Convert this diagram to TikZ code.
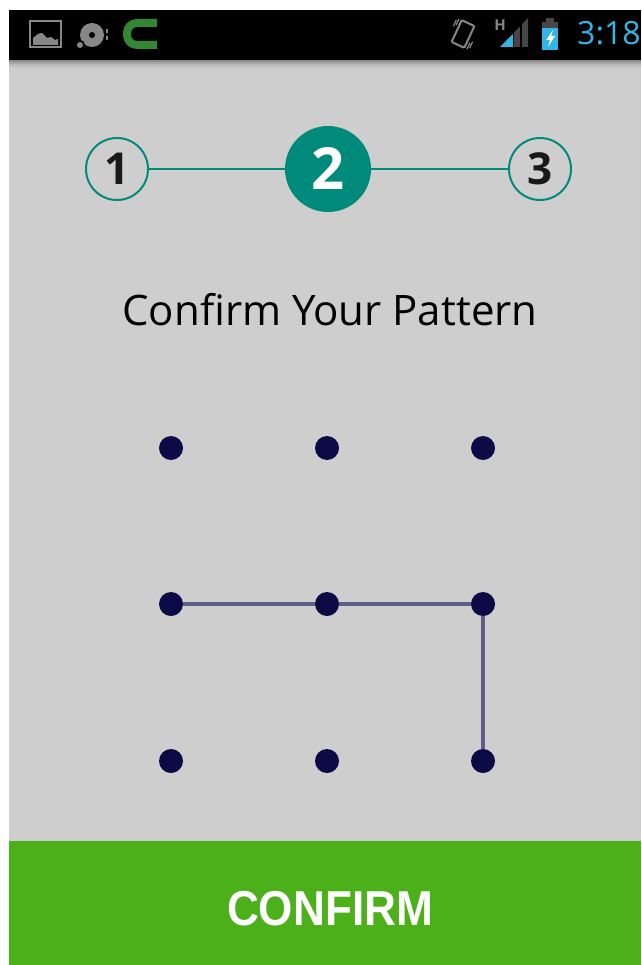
\documentclass[tikz,border=0pt]{standalone}
\usepackage{fontspec}
\setmainfont{Open Sans}
\newfontfamily\condfont[FakeStretch=0.9]{Liberation Sans}
\definecolor{bggray}{RGB}{206,206,206}
\definecolor{stepteal}{RGB}{0,138,123}
\definecolor{btngreen}{RGB}{75,176,26}
\definecolor{dotblue}{RGB}{11,10,69}
\definecolor{pathline}{RGB}{95,94,135}
\definecolor{holo}{RGB}{51,181,229}
\definecolor{icongray}{RGB}{135,135,135}
\definecolor{icondark}{RGB}{70,70,70}
\definecolor{cgreen}{RGB}{50,135,50}
\tikzset{
  stepopen/.style={circle, draw=stepteal, line width=2pt, fill=bggray, minimum size=62pt, inner sep=0pt, text=black!90, font=\bfseries\fontsize{44}{50}\selectfont},
  stepfilled/.style={circle, fill=stepteal, minimum size=86pt, inner sep=0pt, text=white, font=\bfseries\fontsize{58}{62}\selectfont},
  stepline/.style={draw=stepteal, line width=2pt},
  patdot/.style={circle, fill=dotblue, minimum size=24pt, inner sep=0pt},
  patline/.style={draw=pathline, line width=4pt}
}
\begin{document}
\begin{tikzpicture}[x=1pt,y=-1pt]
\useasboundingbox (0,0) rectangle (641,965);
\fill[white] (0,0) rectangle (641,965);
% status bar
\fill[black] (9,10) rectangle (641,60);
\fill[bggray] (9,60) rectangle (641,841);
\fill[black!45] (9,60) rectangle (641,62);
\fill[black!35] (9,62) rectangle (641,64);
\fill[black!27] (9,64) rectangle (641,66);
\fill[black!22] (9,66) rectangle (641,68);
% button
\fill[btngreen] (9,841) rectangle (641,965);
% status icons left
\draw[icongray, line width=2pt] (30,21) rectangle (61,47);
\fill[icongray] (33,45) -- (33,38) -- (38,34) -- (42,33) -- (47,38) -- (51,37) -- (55,40) -- (58,39) -- (58,45) -- cycle;
\fill[icongray] (92,35) circle (12);
\fill[black] (92,35) circle (3);
\fill[black] (80,45) circle (5);
\fill[icongray] (80,45) circle (3);
\fill[icongray] (106,29) rectangle (108,33);
\fill[icongray] (106,36) rectangle (108,40);
\draw[cgreen, line width=8pt, rounded corners=10pt] (157,23) -- (127,23) -- (127,45) -- (157,45);
% status icons right
\begin{scope}[rotate around={-25:(463,34)}]
\draw[icongray, line width=2pt, rounded corners=1pt] (456,22) rectangle (470,46);
\draw[icongray, line width=1.2pt] (451,24) -- (451,31) (453,22) -- (453,29) (475,37) -- (475,44) (473,39) -- (473,46);
\end{scope}
\node[icongray, font=\bfseries\fontsize{15}{15}\selectfont, inner sep=0pt] (hsig) at (500,25) {H};
\fill[icondark] (500,47) -- (528,18) -- (528,47) -- cycle;
\fill[holo] (500,47) -- (513,34) -- (513,47) -- cycle;
\draw[black, line width=1.2pt] (513.5,30) -- (513.5,48) (521,22) -- (521,48);
\fill[icondark] (546,18) rectangle (554,22);
\fill[icondark] (542,22) rectangle (558,28);
\fill[holo] (542,28) rectangle (558,50);
\fill[white] (553,30) -- (546,40) -- (550,40) -- (548,47) -- (555,36) -- (551,36) -- cycle;
\node[text=holo, anchor=base west, inner sep=0pt, font=\fontsize{32}{34}\selectfont] (clock) at (577,45) {3:18};
% steps
\node[stepopen] (s1) at (117,169) {1};
\node[stepfilled] (s2) at (328,169) {2};
\node[stepopen] (s3) at (540,169) {3};
\draw[stepline] (s1) -- (s2);
\draw[stepline] (s2) -- (s3);
% title
\node[anchor=base, inner sep=0pt, font=\fontsize{42}{46}\selectfont] (title) at (330,325) {Confirm Your Pattern};
% pattern grid
\node[patdot] (d11) at (171,448) {};
\node[patdot] (d12) at (327,448) {};
\node[patdot] (d13) at (483,448) {};
\node[patdot] (d21) at (171,604) {};
\node[patdot] (d22) at (327,604) {};
\node[patdot] (d23) at (483,604) {};
\node[patdot] (d31) at (171,761) {};
\node[patdot] (d32) at (327,761) {};
\node[patdot] (d33) at (483,761) {};
\draw[patline] (d21) -- (d22);
\draw[patline] (d22) -- (d23);
\draw[patline] (d23) -- (d33);
% button label
\node[anchor=base, inner sep=0pt, text=white, font=\condfont\bfseries\fontsize{49}{52}\selectfont] (confirm) at (330,925) {CONFIRM};
\end{tikzpicture}
\end{document}
